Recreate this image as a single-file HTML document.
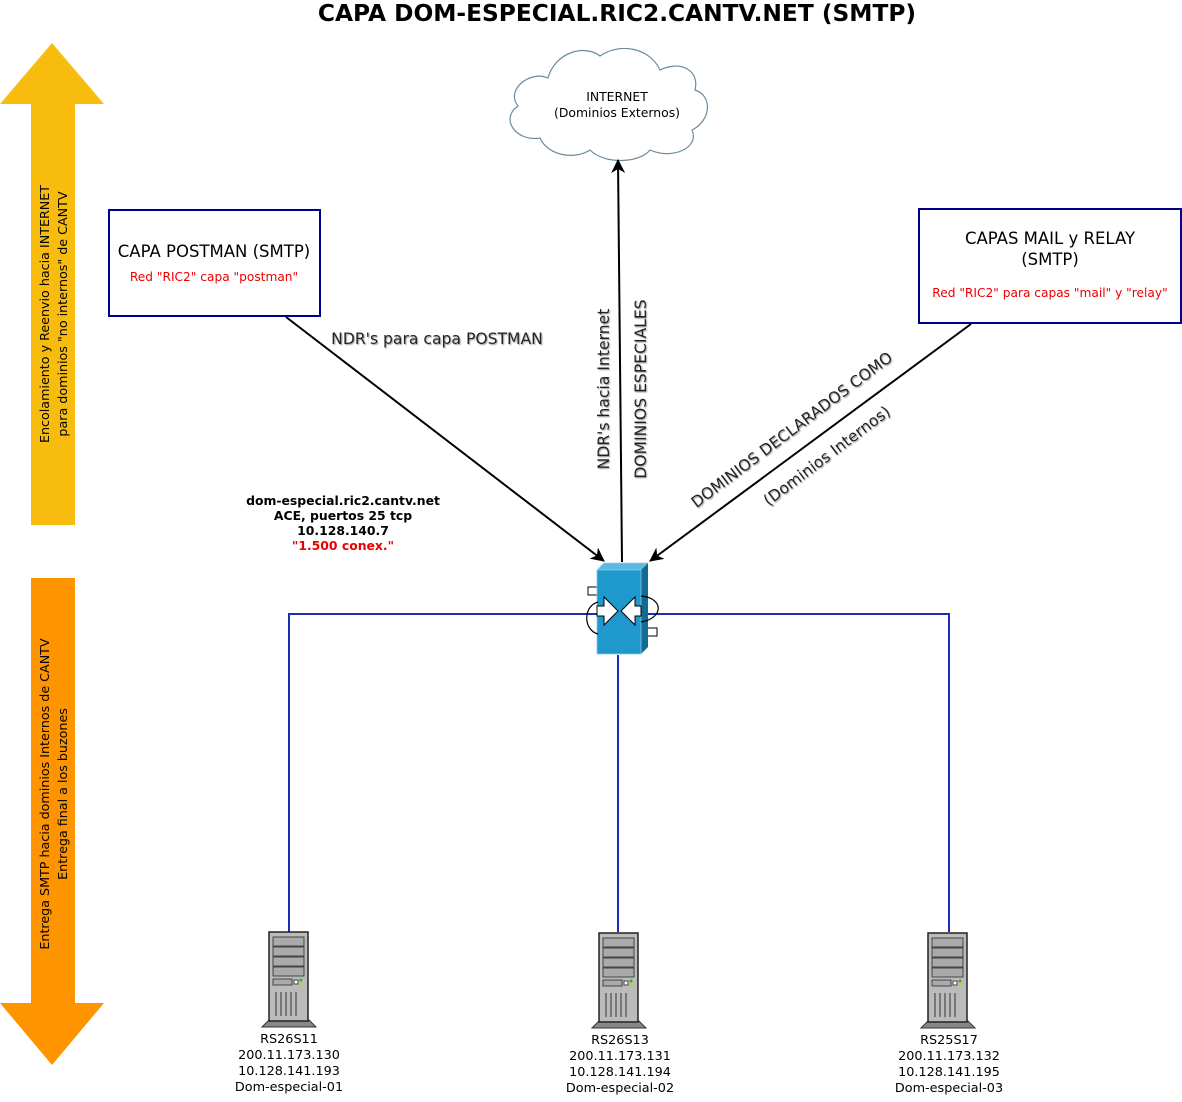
<!DOCTYPE html>
<html><head><meta charset="utf-8"><style>
html,body{margin:0;padding:0;background:#fff;}
body{width:1182px;height:1097px;position:relative;overflow:hidden;font-family:"Liberation Sans","DejaVu Sans",sans-serif;}
</style></head><body>
<svg width="1182" height="1097" viewBox="0 0 1182 1097" xmlns="http://www.w3.org/2000/svg" font-family="DejaVu Sans, Liberation Sans, sans-serif">
<defs>
<marker id="ah" markerWidth="14" markerHeight="14" refX="13" refY="7" orient="auto" markerUnits="userSpaceOnUse" viewBox="0 0 14 14">
<path d="M0,0 L14,7 L0,14 L4,7 Z" fill="#000"/></marker>
<g id="srv">
<path d="M-27,95 L-20,88 L20,88 L27,95 Z" fill="#888" stroke="#333" stroke-width="1"/>
<rect x="-20" y="0" width="39" height="89" fill="#bbb" stroke="#222" stroke-width="1.5"/>
<rect x="-16" y="5" width="31" height="9" fill="#aaa" stroke="#444"/>
<rect x="-16" y="15" width="31" height="9" fill="#aaa" stroke="#444"/>
<rect x="-16" y="25" width="31" height="9" fill="#aaa" stroke="#444"/>
<rect x="-16" y="35" width="31" height="9" fill="#aaa" stroke="#444"/>
<rect x="-16" y="47" width="19" height="6" fill="#aaa" stroke="#444"/>
<rect x="5" y="48" width="4" height="4" fill="#fff" stroke="#444"/>
<circle cx="12" cy="48" r="1.5" fill="#3a3"/><circle cx="12" cy="52" r="1.5" fill="#cc3"/>
<path d="M-13,60V84M-8,60V84M-3,60V84M2,60V84M7,60V84" stroke="#333" stroke-width="1"/>
</g>
<filter id="sh" x="-5%" y="-20%" width="110%" height="140%"><feDropShadow dx="1" dy="1" stdDeviation="0.5" flood-color="#999"/></filter>
</defs>
<text x="617" y="21" text-anchor="middle" font-size="23.3" font-weight="bold" fill="#000">CAPA DOM-ESPECIAL.RIC2.CANTV.NET (SMTP)</text>

<path d="M0,104 L52,43 L104,104 L75,104 L75,525 L31,525 L31,104 Z" fill="#f8bc0f"/>
<path d="M31,578 L75,578 L75,1003 L104,1003 L52,1065 L0,1003 L31,1003 Z" fill="#fe9400"/>
<g font-size="12.7" text-anchor="middle" fill="#000">
<text transform="translate(49,314) rotate(-90)">Encolamiento y Reenvio hacia INTERNET</text>
<text transform="translate(67,314) rotate(-90)">para dominios "no internos" de CANTV</text>
<text transform="translate(49,794) rotate(-90)">Entrega SMTP hacia dominios Internos de CANTV</text>
<text transform="translate(67,794) rotate(-90)">Entrega final a los buzones</text>
</g>

<path d="M548,78 C530,70 505,90 518,106 C500,118 515,142 540,138 C548,156 575,160 590,150 C605,165 640,163 650,150 C672,160 700,148 692,130 C712,120 712,95 695,90 C700,70 680,60 660,70 C650,48 620,42 600,56 C585,44 555,52 548,78 Z" fill="#fff" stroke="#6b8b9b" stroke-width="1.2"/>
<text x="617" y="101" text-anchor="middle" font-size="12.4">INTERNET</text>
<text x="617" y="117" text-anchor="middle" font-size="12.4">(Dominios Externos)</text>

<rect x="109" y="210" width="211" height="106" fill="#fff" stroke="#00008b" stroke-width="2"/>
<text x="214" y="257" text-anchor="middle" font-size="16.5">CAPA POSTMAN (SMTP)</text>
<text x="214" y="281" text-anchor="middle" font-size="12.2" fill="#e00">Red "RIC2" capa "postman"</text>
<rect x="919" y="209" width="262" height="114" fill="#fff" stroke="#00008b" stroke-width="2"/>
<text x="1050" y="244" text-anchor="middle" font-size="16.5">CAPAS MAIL y RELAY</text>
<text x="1050" y="265" text-anchor="middle" font-size="16.5">(SMTP)</text>
<text x="1050" y="297" text-anchor="middle" font-size="12.2" fill="#e00">Red "RIC2" para capas "mail" y "relay"</text>

<line x1="286" y1="317" x2="604" y2="561" stroke="#000" stroke-width="2" marker-end="url(#ah)"/>
<line x1="622" y1="562" x2="618" y2="160" stroke="#000" stroke-width="2" marker-end="url(#ah)"/>
<line x1="971" y1="324" x2="650" y2="561" stroke="#000" stroke-width="2" marker-end="url(#ah)"/>
<g font-size="15.6" fill="#222" text-anchor="middle" filter="url(#sh)">
<text x="437" y="344">NDR's para capa POSTMAN</text>
<text transform="translate(609,389) rotate(-90)">NDR's hacia Internet</text>
<text transform="translate(646,389) rotate(-90)">DOMINIOS ESPECIALES</text>
<text transform="translate(795,434) rotate(-37)">DOMINIOS DECLARADOS COMO</text>
<text transform="translate(830,460) rotate(-37)">(Dominios Internos)</text>
</g>

<g font-size="12.4" font-weight="bold" text-anchor="middle">
<text x="343" y="505">dom-especial.ric2.cantv.net</text>
<text x="343" y="520">ACE, puertos 25 tcp</text>
<text x="343" y="535">10.128.140.7</text>
<text x="343" y="550" fill="#e00">"1.500 conex."</text>
</g>

<path d="M289,932 V614 H949 V932 M618,655 V932" fill="none" stroke="#1a2fb8" stroke-width="2"/>

<g>
<rect x="588" y="587" width="10" height="8" fill="#fff" stroke="#000"/>
<rect x="647" y="628" width="10" height="8" fill="#fff" stroke="#000"/>
<path d="M597,570 L604,563 L648,563 L641,570 Z" fill="#5bb8e6" stroke="#9cd" stroke-width="0.8"/>
<path d="M641,570 L648,563 L648,647 L641,654 Z" fill="#126b94"/>
<rect x="597" y="570" width="44" height="84" fill="#1e98cd" stroke="#8cd" stroke-width="0.8"/>
<path d="M598,602 C583,606 583,630 598,634 M641,596 C664,598 664,618 641,622" fill="none" stroke="#000" stroke-width="1.2"/>
<path d="M597,606 L604,606 L604,597 L618,611 L604,625 L604,616 L597,616 Z" fill="#fff" stroke="#000"/>
<path d="M641,606 L635,606 L635,597 L621,611 L635,625 L635,616 L641,616 Z" fill="#fff" stroke="#000"/>
</g>

<use href="#srv" x="289" y="932"/>
<use href="#srv" x="619" y="933"/>
<use href="#srv" x="948" y="933"/>
<g font-size="12.8" text-anchor="middle">
<text x="289" y="1043">RS26S11</text><text x="289" y="1059">200.11.173.130</text><text x="289" y="1075">10.128.141.193</text><text x="289" y="1091">Dom-especial-01</text>
<text x="620" y="1044">RS26S13</text><text x="620" y="1060">200.11.173.131</text><text x="620" y="1076">10.128.141.194</text><text x="620" y="1092">Dom-especial-02</text>
<text x="949" y="1044">RS25S17</text><text x="949" y="1060">200.11.173.132</text><text x="949" y="1076">10.128.141.195</text><text x="949" y="1092">Dom-especial-03</text>
</g>
</svg>
</body></html>
